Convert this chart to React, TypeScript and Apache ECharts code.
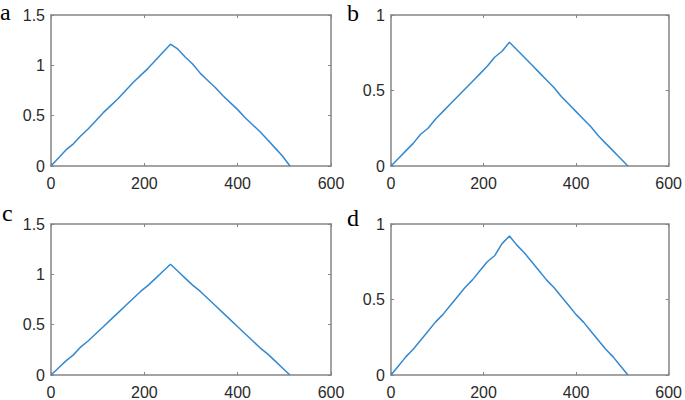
import React, { useEffect, useRef } from "react";
import * as echarts from "echarts";

const xs = [0, 16, 32, 48, 64, 80, 96, 112, 128, 144, 160, 176, 192, 208, 224, 240, 256, 272, 288, 304, 320, 336, 352, 368, 384, 400, 416, 432, 448, 464, 480, 496, 512];

const seriesA = [0, 0.08, 0.16, 0.22, 0.3, 0.37, 0.45, 0.53, 0.6, 0.67, 0.75, 0.83, 0.9, 0.97, 1.05, 1.13, 1.21, 1.16, 1.08, 1.01, 0.92, 0.85, 0.78, 0.7, 0.63, 0.56, 0.48, 0.41, 0.34, 0.26, 0.18, 0.1, 0];
const seriesB = [0, 0.05, 0.1, 0.15, 0.21, 0.25, 0.31, 0.36, 0.41, 0.46, 0.51, 0.56, 0.61, 0.66, 0.72, 0.76, 0.82, 0.77, 0.72, 0.67, 0.62, 0.57, 0.52, 0.46, 0.41, 0.36, 0.31, 0.26, 0.2, 0.15, 0.1, 0.05, 0];
const seriesC = [0, 0.07, 0.14, 0.2, 0.28, 0.34, 0.41, 0.48, 0.55, 0.62, 0.69, 0.76, 0.83, 0.89, 0.96, 1.03, 1.1, 1.03, 0.96, 0.89, 0.83, 0.76, 0.69, 0.62, 0.55, 0.48, 0.41, 0.34, 0.27, 0.21, 0.14, 0.07, 0];
const seriesD = [0, 0.06, 0.12, 0.17, 0.23, 0.29, 0.35, 0.4, 0.46, 0.52, 0.58, 0.63, 0.69, 0.75, 0.79, 0.87, 0.92, 0.86, 0.81, 0.75, 0.69, 0.63, 0.58, 0.52, 0.46, 0.4, 0.35, 0.29, 0.23, 0.17, 0.12, 0.06, 0];

const panelLabels = ["a", "b", "c", "d"];
const yMaxes = [1.5, 1, 1.5, 1];
const xTicks = { min: 0, max: 600, interval: 200 };

const LINE_COLOR = "#3389d0";
const FRAME = "#858585";
const TEXT = "#2a2a2a";

export default function App() {
  const ref = useRef<HTMLDivElement>(null);
  useEffect(() => {
    const chart = echarts.init(ref.current!, undefined, { renderer: "svg" });
    const seriesList = [seriesA, seriesB, seriesC, seriesD];
    const grids = [
      { left: 51, top: 15, width: 280, height: 151 },
      { left: 391, top: 15, width: 280, height: 151 },
      { left: 51, top: 224, width: 280, height: 151 },
      { left: 391, top: 224, width: 280, height: 151 },
    ];
    const axisLine = { show: true, onZero: false, lineStyle: { color: FRAME, width: 1.5 } };
    const tick = { show: true, inside: true, length: 3, lineStyle: { color: FRAME, width: 1 } };
    const labelFont = { fontFamily: "'Liberation Sans', Arial, sans-serif", fontSize: 16, color: TEXT };
    const xAxis: any[] = [];
    const yAxis: any[] = [];
    const series: any[] = [];
    grids.forEach((g, i) => {
      xAxis.push({
        type: "value", gridIndex: i, position: "bottom", ...xTicks,
        axisLine, axisTick: tick, splitLine: { show: false },
        axisLabel: { ...labelFont, margin: 9 },
      });
      xAxis.push({
        type: "value", gridIndex: i, position: "top", ...xTicks,
        axisLine, axisTick: tick, splitLine: { show: false }, axisLabel: { show: false },
      });
      yAxis.push({
        type: "value", gridIndex: i, position: "left", min: 0, max: yMaxes[i], interval: 0.5,
        axisLine, axisTick: tick, splitLine: { show: false },
        axisLabel: { ...labelFont, margin: 6 },
      });
      yAxis.push({
        type: "value", gridIndex: i, position: "right", min: 0, max: yMaxes[i], interval: 0.5,
        axisLine, axisTick: tick, splitLine: { show: false }, axisLabel: { show: false },
      });
      series.push({
        type: "line", xAxisIndex: i * 2, yAxisIndex: i * 2,
        data: xs.map((x, k) => [x, seriesList[i][k]]),
        showSymbol: false, symbol: "none",
        lineStyle: { color: LINE_COLOR, width: 1.5 },
      });
    });
    const labelPos = [
      { x: 0, y: 0 },
      { x: 347, y: 1 },
      { x: 2, y: 201 },
      { x: 347, y: 206 },
    ];
    chart.setOption({
      animation: false,
      backgroundColor: "#ffffff",
      grid: grids,
      xAxis,
      yAxis,
      series,
      graphic: panelLabels.map((t, i) => ({
        type: "text",
        x: labelPos[i].x,
        y: labelPos[i].y,
        style: {
          text: t,
          font: "24px 'Liberation Serif', 'Times New Roman', serif",
          fill: "#000",
          verticalAlign: "top",
        },
      })),
    });
    return () => chart.dispose();
  }, []);
  return (
    <div
      ref={ref}
      style={{ position: "absolute", left: 0, top: 0, width: 685, height: 400 }}
    />
  );
}
